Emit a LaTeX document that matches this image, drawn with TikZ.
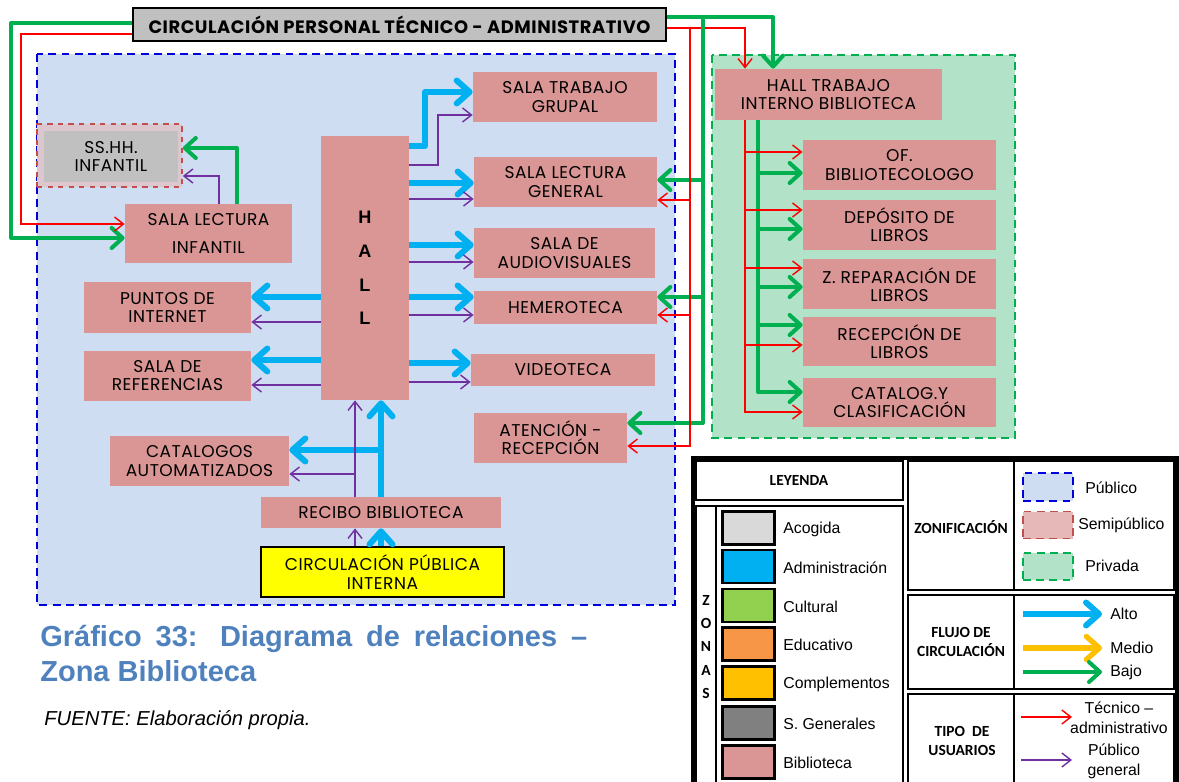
\documentclass[tikz,border=0pt]{standalone}
\usepackage{fontspec}
\setmainfont{Liberation Sans}
\newfontfamily\cajafont[LetterSpace=3]{Poppins}
\newfontfamily\calfont{Carlito}
\usetikzlibrary{arrows.meta,positioning}
\definecolor{biblio}{RGB}{217,150,148}
\definecolor{zpubfill}{RGB}{207,221,242}
\definecolor{zpubborde}{RGB}{0,0,220}
\definecolor{zprivfill}{RGB}{178,226,199}
\definecolor{zprivborde}{RGB}{0,176,80}
\definecolor{semifill}{RGB}{230,184,183}
\definecolor{semiborde}{RGB}{192,80,77}
\definecolor{grisc}{RGB}{192,192,192}
\definecolor{acog}{RGB}{217,217,217}
\definecolor{admin}{RGB}{0,176,240}
\definecolor{cult}{RGB}{146,208,80}
\definecolor{educ}{RGB}{247,150,70}
\definecolor{compl}{RGB}{255,192,0}
\definecolor{sgen}{RGB}{128,128,128}
\definecolor{bajoverde}{RGB}{0,176,80}
\definecolor{publmor}{RGB}{112,48,160}
\definecolor{titazul}{RGB}{79,129,189}
\definecolor{amarillo}{RGB}{255,255,0}
\tikzset{
  bblk/.style={rectangle, fill=biblio, draw=none, text=black, align=center, inner sep=0pt,
               font=\cajafont\fontsize{9.7}{10.4}\selectfont},
  sz/.style 2 args={minimum width=#1*0.02cm, minimum height=#2*0.02cm},
  alto/.style={-{Straight Barb[length=2.6mm,width=4.6mm,round]}, line width=3.4pt, admin, line join=round},
  medio/.style={-{Straight Barb[length=2.6mm,width=4.6mm,round]}, line width=3pt, compl, line join=round},
  bajo/.style={-{Straight Barb[length=2.2mm,width=4mm,round]}, line width=2.3pt, bajoverde, line join=round},
  tecn/.style={-{Straight Barb[length=1.8mm,width=2.8mm]}, line width=0.8pt, red},
  publ/.style={-{Straight Barb[length=1.8mm,width=2.8mm]}, line width=0.8pt, publmor},
  zpub/.style={draw=zpubborde, fill=zpubfill, dash pattern=on 4.5pt off 3pt, line width=0.9pt},
  zpriv/.style={draw=zprivborde, fill=zprivfill, dash pattern=on 4.5pt off 3pt, line width=0.9pt},
  leyc/.style={draw=black, line width=1.3pt},
  ltxt/.style={font=\fontsize{9}{11.3}\selectfont, inner sep=0pt, align=center},
  lbold/.style={font=\calfont\bfseries\fontsize{8.8}{11}\selectfont, inner sep=0pt, align=center},
}

\begin{document}
\begin{tikzpicture}[x=0.02cm, y=-0.02cm]
\useasboundingbox (0,0) rectangle (1179,781);
% zonas
\draw[zpub] (37,54) rectangle (675,605);
\draw[zpriv] (712,55) rectangle (1015,438);

% ambientes
\node[bblk, fill=grisc, draw=black, line width=1.2pt, sz={533}{33},
      font=\cajafont\bfseries\fontsize{10.2}{10.4}\selectfont] (topc) at (399.5,24.5)
      {CIRCULACIÓN PERSONAL TÉCNICO - ADMINISTRATIVO};
\node[draw=semiborde, dashed, line width=0.9pt, fill=semifill!60!zpubfill, sz={145}{63}] (sshh) at (109.5,155.5) {};
\node[bblk, fill=grisc, sz={134}{51}] (sshhin) at (111,156.5) {SS.HH.\\INFANTIL};
\node[bblk, sz={167}{59}] (slinf) at (208.5,233.5) {SALA LECTURA\\[5pt]INFANTIL};
\node[bblk, sz={88}{264}, font=\bfseries\fontsize{10.3}{19.1}\selectfont] (hall) at (365,268) {H\\A\\L\\L};
\node[bblk, sz={184}{50}] (stg) at (565,97) {SALA TRABAJO\\GRUPAL};
\node[bblk, sz={183}{50}] (slg) at (565.5,182) {SALA LECTURA\\GENERAL};
\node[bblk, sz={181}{50}] (sav) at (564.5,253) {SALA DE\\AUDIOVISUALES};
\node[bblk, sz={183}{33}] (hem) at (565.5,307.5) {HEMEROTECA};
\node[bblk, sz={184}{32}] (vid) at (563,370) {VIDEOTECA};
\node[bblk, sz={153}{50}] (aten) at (550.5,438) {ATENCIÓN -\\RECEPCIÓN};
\node[bblk, sz={167}{51}] (pint) at (167.5,307.5) {PUNTOS DE\\INTERNET};
\node[bblk, sz={167}{50}, below=0.34cm of pint] (sref) {SALA DE\\REFERENCIAS};
\node[bblk, sz={179}{50}] (cata) at (199.5,461) {CATALOGOS\\AUTOMATIZADOS};
\node[bblk, sz={240}{31}] (recb) at (381,512.5) {RECIBO BIBLIOTECA};
\node[bblk, fill=amarillo, draw=black, line width=1.2pt, sz={243}{50}] (cpi) at (382.5,572) {CIRCULACIÓN PÚBLICA\\INTERNA};
\node[bblk, sz={227}{51}] (htib) at (828.5,94.5) {HALL TRABAJO\\INTERNO BIBLIOTECA};
\node[bblk, sz={193}{50}] (ofb) at (899.5,165) {OF.\\BIBLIOTECOLOGO};
\node[bblk, sz={193}{50}, below=0.18cm of ofb] (dep) {DEPÓSITO DE\\LIBROS};
\node[bblk, sz={193}{50}, below=0.18cm of dep] (zrep) {Z. REPARACIÓN DE\\LIBROS};
\node[bblk, sz={193}{49}, below=0.14cm of zrep] (recl) {RECEPCIÓN DE\\LIBROS};
\node[bblk, sz={193}{49}, below=0.22cm of recl] (ccla) {CATALOG.Y\\CLASIFICACIÓN};

% flujos desde el hall
\draw[alto] (hall.east |- 0,146) -| (425,92) -- (stg.west |- 0,92);
\draw[publ] (hall.east |- 0,165) -| (438,115) -- (stg.west |- 0,115);
\foreach \dest/\ya/\yp in {slg/183/199, sav/245/262, hem/297/315, vid/363/382}{
  \draw[alto] (hall.east |- 0,\ya) -- (\dest.west |- 0,\ya);
  \draw[publ] (hall.east |- 0,\yp) -- (\dest.west |- 0,\yp);
}
\foreach \dest/\ya/\yp in {pint/297/322, sref/360/385}{
  \draw[alto] (hall.west |- 0,\ya) -- (\dest.east |- 0,\ya);
  \draw[publ] (hall.west |- 0,\yp) -- (\dest.east |- 0,\yp);
}
\draw[alto] (cpi.north -| 381,0) -- (recb.south -| 381,0);
\draw[alto] (recb.north -| 381,0) -- (hall.south -| 381,0);
\draw[alto] (recb.north -| 381,0) |- (cata.east |- 0,450);
\draw[publ] (cpi.north -| 355,0) -- (recb.south -| 355,0);
\draw[publ] (recb.north -| 355,0) -- (hall.south -| 355,0);
\draw[publ] (recb.north -| 355,0) |- (cata.east |- 0,474);
\draw[bajo] (slinf.north -| 237,0) |- (sshh.east |- 0,148);
\draw[publ] (slinf.north -| 219,0) |- (sshh.east |- 0,176);

% circulacion tecnico - administrativa
\coordinate (vbus) at (703,17);
\coordinate (rbus) at (690,28);
\draw[bajo] (topc.west |- 0,23) -| (11,238) -- (slinf.west |- 0,238);
\draw[tecn] (topc.west |- 0,34) -| (21,224) -- (slinf.west |- 0,224);
\draw[bajo] (topc.east |- 0,17) -| (htib.north -| 773,0);
\draw[tecn] (topc.east |- 0,28) -| (htib.north -| 745,0);
\draw[bajo] (vbus) |- (slg.east |- 0,180);
\draw[bajo] (vbus) |- (hem.east |- 0,297);
\draw[bajo] (vbus) |- (aten.east |- 0,423);
\draw[tecn] (rbus) |- (slg.east |- 0,200);
\draw[tecn] (rbus) |- (hem.east |- 0,315);
\draw[tecn] (rbus) |- (aten.east |- 0,446);
\foreach \dest/\y in {ofb/173, dep/229, zrep/287, recl/325, ccla/392}
  \draw[bajo] (htib.south -| 758,0) |- (\dest.west |- 0,\y);
\foreach \dest/\y in {ofb/152, dep/210, zrep/268, recl/345, ccla/412}
  \draw[tecn] (htib.south -| 745,0) |- (\dest.west |- 0,\y);

% titulo y fuente
\node[anchor=north west, inner sep=0pt, align=left, text=titazul,
      font=\bfseries\fontsize{16.5}{19.8}\selectfont] (titulo) at (40,625)
      {\makebox[10.94cm][s]{Gráfico 33: Diagrama de relaciones –}\\Zona Biblioteca};
\node[anchor=west, inner sep=0pt, font=\itshape\fontsize{11.5}{13}\selectfont] (fuente) at (44,720)
      {FUENTE: Elaboración propia.};

% leyenda
\fill[white] (692,457) rectangle (1179,781);
\draw[line width=2.4pt] (693,458) rectangle (1177,800);
\draw[leyc] (696,461) rectangle (903,500);
\node[lbold] (leyenda) at (799,480) {LEYENDA};
\draw[leyc] (696,506) rectangle (903,800);
\draw[leyc] (716,506) -- (716,800);
\node[lbold, font=\calfont\bfseries\fontsize{8.8}{13.3}\selectfont] (zonas) at (706,647) {Z\\O\\N\\A\\S};
\foreach \col/\lab/\y in {acog/Acogida/528, admin/Administración/566.5, cult/Cultural/605.5,
    educ/Educativo/644, compl/Complementos/683, sgen/S. Generales/723, biblio/Biblioteca/762}{
  \node[draw=black, line width=1.3pt, fill=\col, sz={52}{33}] (sw\col) at (748.5,\y) {};
  \node[ltxt, anchor=west] (lb\col) at (783,\y+1) {\lab};
}
\draw[leyc] (908,461) rectangle (1174,590);
\draw[leyc] (1014,461) -- (1014,590);
\draw[leyc] (908,595) rectangle (1174,689);
\draw[leyc] (1014,595) -- (1014,689);
\draw[leyc] (908,694) rectangle (1174,800);
\draw[leyc] (1014,694) -- (1014,800);
\node[lbold] (lzon) at (961,527) {ZONIFICACIÓN};
\node[lbold] (lflu) at (961,642) {FLUJO DE\\CIRCULACIÓN};
\node[lbold] (ltip) at (962,741) {TIPO \ DE\\USUARIOS};
\node[zpub, sz={50}{28}] (zpubm) at (1048,487) {};
\node[draw=semiborde, fill=semifill, dash pattern=on 4.5pt off 3pt, line width=0.9pt, sz={50}{27}] (zsemim) at (1048,525) {};
\node[zpriv, sz={50}{27}] (zprivm) at (1048,566.5) {};
\node[ltxt, anchor=west] (lpub) at (1085,488) {Público};
\node[ltxt, anchor=west] (lsemi) at (1078,525) {Semipúblico};
\node[ltxt, anchor=west] (lpriv) at (1085,566) {Privada};
\foreach \s/\n/\y in {alto/Alto/614, medio/Medio/648, bajo/Bajo/672}{
  \coordinate (f\s0) at (1023,\y);
  \coordinate (f\s1) at (1102,\y);
  \draw[\s] (f\s0) -- (f\s1);
  \node[ltxt, anchor=west] (l\s) at (1110,\y) {\n};
}
\coordinate (ftec0) at (1021,717);
\coordinate (ftec1) at (1072,717);
\coordinate (fpub0) at (1021,760);
\coordinate (fpub1) at (1072,760);
\draw[tecn] (ftec0) -- (ftec1);
\draw[publ] (fpub0) -- (fpub1);
\node[ltxt] (ltec) at (1119,718) {Técnico –\\administrativo};
\node[ltxt] (lpg) at (1114,761) {Público\\general};
\end{tikzpicture}
\end{document}
